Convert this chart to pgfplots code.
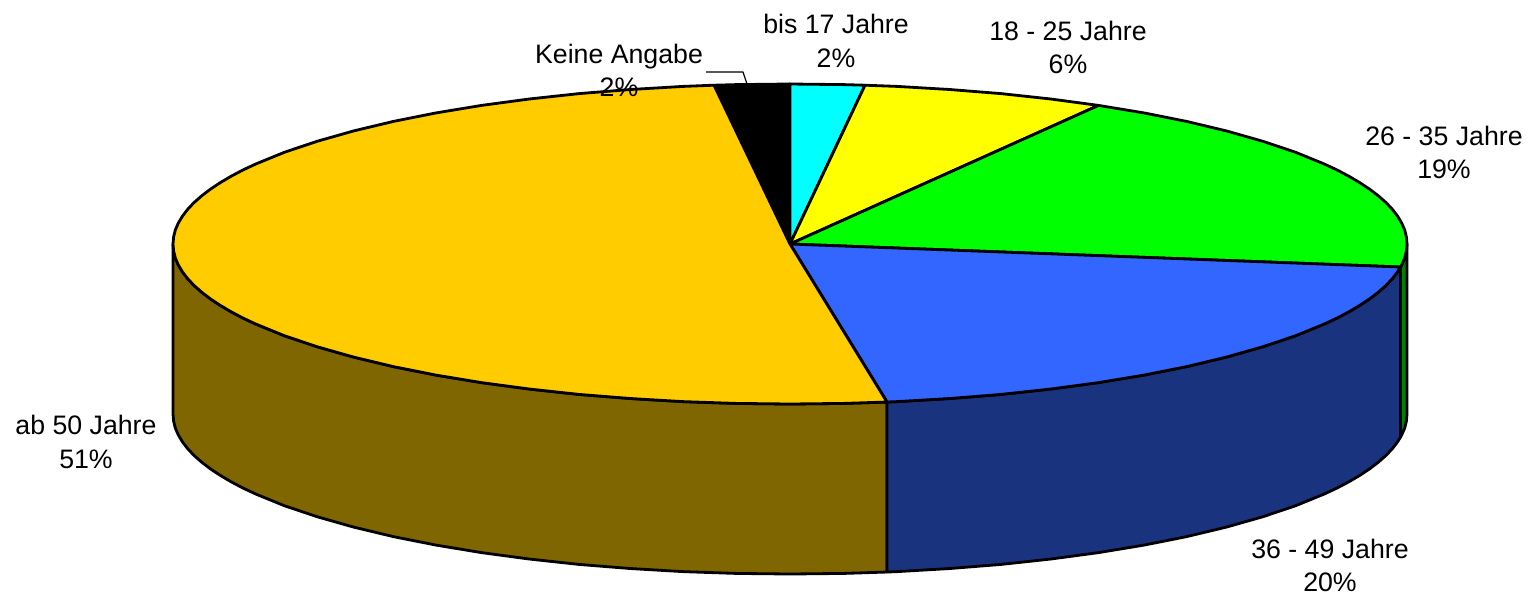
\documentclass[border=0pt]{standalone}
\usepackage{pgfplots}
\pgfplotsset{compat=1.18}
\usepackage{fontspec}
\setmainfont{Liberation Sans}
\definecolor{piecyan}{HTML}{00FFFF}
\definecolor{pieyellow}{HTML}{FFFF00}
\definecolor{piegreen}{HTML}{00FF00}
\definecolor{pieblue}{HTML}{3366FF}
\definecolor{piegold}{HTML}{FFCC00}
\definecolor{darkgreen}{HTML}{008000}
\definecolor{darkblue}{HTML}{19337F}
\definecolor{darkgold}{HTML}{806600}
\tikzset{lab/.style={align=center, font=\fontsize{7.6}{9.5}\selectfont, inner sep=0pt}}

\begin{document}
\begin{tikzpicture}
\begin{axis}[
	scale only axis,
	width=15.3cm,
	height=5.99cm,
	xmin=0, xmax=1530,
	ymin=0, ymax=599,
	y dir=reverse,
	hide axis,
	clip=false,
	every axis plot/.append style={draw=black, line width=0.8pt, line join=round}]

	% side walls
	\addplot[fill=darkgold] coordinates {
		(887,402) (843.8,403.4) (790,404) (736.2,403.4) (682.9,401.6) (630.3,398.5)
		(579,394.4) (529.2,389) (481.5,382.6) (436.1,375.1) (393.4,366.6) (353.7,357.1)
		(317.4,346.8) (284.6,335.8) (255.7,324) (242.7,317.9) (230.8,311.6) (220,305.2)
		(210.2,298.7) (201.6,292.1) (194,285.4) (187.6,278.6) (182.4,271.8) (178.3,264.9)
		(175.3,258) (173.6,251) (173,244)
		(173,414) (173.6,421) (175.3,428) (178.3,434.9) (182.4,441.8) (187.6,448.6)
		(194,455.4) (201.6,462.1) (210.2,468.7) (220,475.2) (230.8,481.6) (242.7,487.9)
		(255.7,494) (284.6,505.8) (317.4,516.8) (353.7,527.1) (393.4,536.6) (436.1,545.1)
		(481.5,552.6) (529.2,559) (579,564.4) (630.3,568.5) (682.9,571.6) (736.2,573.4)
		(790,574) (843.8,573.4) (887,572)} --cycle;
	\addplot[fill=darkblue] coordinates {
		(1400.5,267) (1397.6,271.8) (1392.4,278.6) (1386,285.4) (1378.4,292.1) (1369.8,298.7)
		(1360,305.2) (1349.2,311.6) (1337.3,317.9) (1324.3,324)
		(1295.4,335.8) (1262.6,346.8) (1226.3,357.1) (1186.6,366.6) (1143.9,375.1)
		(1098.5,382.6) (1050.8,389) (1001,394.4) (949.7,398.5) (897.1,401.6) (887,402)
		(887,572) (897.1,571.6) (949.7,568.5) (1001,564.4) (1050.8,559) (1098.5,552.6)
		(1143.9,545.1) (1186.6,536.6) (1226.3,527.1) (1262.6,516.8) (1295.4,505.8)
		(1324.3,494) (1337.3,487.9) (1349.2,481.6) (1360,475.2) (1369.8,468.7) (1378.4,462.1)
		(1386,455.4) (1392.4,448.6) (1397.6,441.8) (1400.5,437)} --cycle;
	\addplot[fill=darkgreen] coordinates {
		(1407,244) (1406.4,251) (1404.7,258) (1401.7,264.9) (1400.5,267)
		(1400.5,437) (1401.7,434.9) (1404.7,428) (1406.4,421) (1407,414)} --cycle;

	% top slices
	\addplot[fill=black] coordinates {
		(790,244) (714,85.2) (736.2,84.6) (790,84)} --cycle;
	\addplot[fill=piecyan] coordinates {
		(790,244) (790,84) (843.8,84.6) (865,85.2)} --cycle;
	\addplot[fill=pieyellow] coordinates {
		(790,244) (865,85.2) (897.1,86.4) (949.7,89.5) (1001,93.6) (1050.8,99) (1098.5,105.4)} --cycle;
	\addplot[fill=piegreen] coordinates {
		(790,244) (1098.5,105.4) (1143.9,112.9) (1186.6,121.4) (1226.3,130.9) (1262.6,141.2)
		(1295.4,152.2) (1324.3,164) (1337.3,170.1) (1349.2,176.4) (1360,182.8) (1369.8,189.3)
		(1378.4,195.9) (1386,202.6) (1392.4,209.4) (1397.6,216.2) (1401.7,223.1) (1404.7,230)
		(1406.4,237) (1407,244) (1406.4,251) (1404.7,258) (1401.7,264.9) (1400.5,267)} --cycle;
	\addplot[fill=pieblue] coordinates {
		(790,244) (1400.5,267) (1397.6,271.8) (1392.4,278.6) (1386,285.4) (1378.4,292.1)
		(1369.8,298.7) (1360,305.2) (1349.2,311.6) (1337.3,317.9)
		(1324.3,324) (1295.4,335.8) (1262.6,346.8) (1226.3,357.1) (1186.6,366.6) (1143.9,375.1)
		(1098.5,382.6) (1050.8,389) (1001,394.4) (949.7,398.5) (897.1,401.6) (887,402)} --cycle;
	\addplot[fill=piegold] coordinates {
		(790,244) (887,402) (843.8,403.4) (790,404) (736.2,403.4) (682.9,401.6) (630.3,398.5)
		(579,394.4) (529.2,389) (481.5,382.6) (436.1,375.1) (393.4,366.6) (353.7,357.1)
		(317.4,346.8) (284.6,335.8) (255.7,324) (242.7,317.9) (230.8,311.6) (220,305.2)
		(210.2,298.7) (201.6,292.1) (194,285.4) (187.6,278.6) (182.4,271.8) (178.3,264.9)
		(175.3,258) (173.6,251) (173,244) (173.6,237) (175.3,230) (178.3,223.1) (182.4,216.2)
		(187.6,209.4) (194,202.6) (201.6,195.9) (210.2,189.3) (220,182.8) (230.8,176.4)
		(242.7,170.1) (255.7,164) (284.6,152.2) (317.4,141.2) (353.7,130.9) (393.4,121.4)
		(436.1,112.9) (481.5,105.4) (529.2,99) (579,93.6) (630.3,89.5) (682.9,86.4) (714,85.2)} --cycle;

	% leader line of Keine Angabe
	\addplot[draw=black, line width=0.35pt] coordinates {(706,72) (743,72) (747,84)};

	\node[lab] at (axis cs:619,70.5) {Keine Angabe\\2\%};
	\node[lab] at (axis cs:836,41) {bis 17 Jahre\\2\%};
	\node[lab] at (axis cs:1068,47.5) {18 - 25 Jahre\\6\%};
	\node[lab] at (axis cs:1444,152.5) {26 - 35 Jahre\\19\%};
	\node[lab] at (axis cs:1330,565.5) {36 - 49 Jahre\\20\%};
	\node[lab] at (axis cs:86,442) {ab 50 Jahre\\51\%};

	% keep the full page size, hide axis leaves no bounding box
	\path (axis cs:0,0) (axis cs:1530,599);
\end{axis}
\end{tikzpicture}
\end{document}
